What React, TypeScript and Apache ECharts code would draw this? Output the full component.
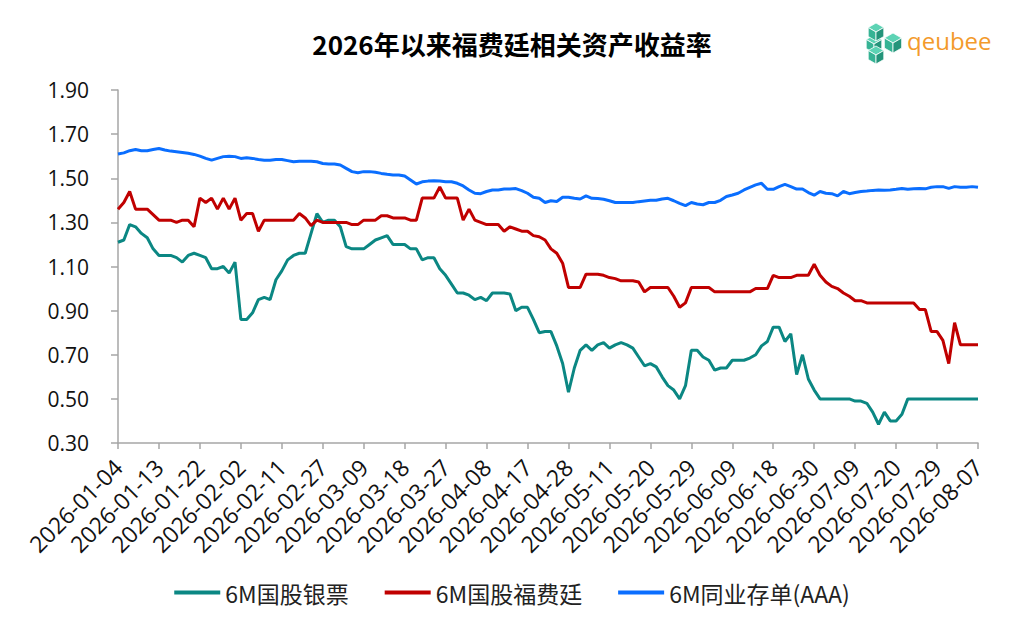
import React, { useEffect, useRef } from "react";
import * as echarts from "echarts";

const janDays = [4, 5, 6, 7, 8, 9, 12, 13, 14, 15, 16, 19, 20, 21, 22, 23, 26, 27, 28, 29, 30];
const febDays = [2, 3, 4, 5, 6, 9, 10, 11, 12, 13, 14, 24, 25, 26, 27, 28];
const marDays = [2, 3, 4, 5, 6, 9, 10, 11, 12, 13, 16, 17, 18, 19, 20, 23, 24, 25, 26, 27, 30, 31];
const aprDays = [1, 2, 3, 7, 8, 9, 10, 13, 14, 15, 16, 17, 20, 21, 22, 23, 24, 27, 28, 29, 30];
const mayDays = [6, 7, 8, 9, 11, 12, 13, 14, 15, 18, 19, 20, 21, 22, 25, 26, 27, 28, 29];
const junDays = [1, 2, 3, 4, 5, 8, 9, 10, 11, 12, 15, 16, 17, 18, 22, 23, 24, 25, 26, 29, 30];
const julDays = [1, 2, 3, 6, 7, 8, 9, 10, 13, 14, 15, 16, 17, 20, 21, 22, 23, 24, 27, 28, 29, 30, 31];
const augDays = [3, 4, 5, 6, 7];

const monthDays: [string, number[]][] = [
  ["01", janDays], ["02", febDays], ["03", marDays], ["04", aprDays],
  ["05", mayDays], ["06", junDays], ["07", julDays], ["08", augDays],
];
const pad = (d: number) => (d < 10 ? "0" + d : "" + d);
const categories: string[] = [];
monthDays.forEach(([m, days]) => days.forEach((d) => categories.push(`2026-${m}-${pad(d)}`)));

const seriesNames = ["6M国股银票", "6M国股福费廷", "6M同业存单(AAA)"];

const billData = [
  1.21, 1.22, 1.29, 1.28, 1.25, 1.23, 1.18, 1.15, 1.15, 1.15,
  1.14, 1.12, 1.15, 1.16, 1.15, 1.14, 1.09, 1.09, 1.10, 1.07,
  1.12, 0.86, 0.86, 0.89, 0.95, 0.96, 0.95, 1.04, 1.08, 1.13,
  1.15, 1.16, 1.16, 1.25, 1.34, 1.30, 1.31, 1.31, 1.28, 1.19,
  1.18, 1.18, 1.18, 1.20, 1.22, 1.23, 1.24, 1.20, 1.20, 1.20,
  1.18, 1.18, 1.13, 1.14, 1.14, 1.09, 1.06, 1.02, 0.98, 0.98,
  0.97, 0.95, 0.96, 0.945, 0.98, 0.98, 0.98, 0.975, 0.90, 0.915,
  0.915, 0.86, 0.80, 0.805, 0.805, 0.74, 0.66, 0.53, 0.64, 0.72,
  0.745, 0.72, 0.745, 0.755, 0.73, 0.745, 0.755, 0.745, 0.73, 0.69,
  0.65, 0.66, 0.645, 0.60, 0.56, 0.54, 0.50, 0.56, 0.72, 0.72,
  0.69, 0.675, 0.63, 0.64, 0.64, 0.675, 0.675, 0.675, 0.685, 0.70,
  0.74, 0.76, 0.825, 0.825, 0.76, 0.795, 0.61, 0.70, 0.59, 0.54,
  0.50, 0.50, 0.50, 0.50, 0.50, 0.50, 0.49, 0.49, 0.48, 0.44,
  0.385, 0.44, 0.40, 0.40, 0.43, 0.50, 0.50, 0.50, 0.50, 0.50,
  0.50, 0.50, 0.50, 0.50, 0.50, 0.50, 0.50, 0.50,
];

const forfaitingData = [
  1.36, 1.39, 1.44, 1.36, 1.36, 1.36, 1.335, 1.31, 1.31, 1.31,
  1.30, 1.31, 1.31, 1.28, 1.41, 1.39, 1.41, 1.36, 1.41, 1.36,
  1.41, 1.31, 1.34, 1.34, 1.26, 1.31, 1.31, 1.31, 1.31, 1.31,
  1.31, 1.34, 1.32, 1.285, 1.31, 1.30, 1.30, 1.30, 1.30, 1.30,
  1.29, 1.29, 1.31, 1.31, 1.31, 1.33, 1.33, 1.32, 1.32, 1.32,
  1.31, 1.31, 1.41, 1.41, 1.41, 1.46, 1.41, 1.41, 1.41, 1.31,
  1.36, 1.31, 1.30, 1.29, 1.29, 1.29, 1.26, 1.28, 1.27, 1.26,
  1.26, 1.24, 1.235, 1.22, 1.18, 1.16, 1.115, 1.005, 1.005, 1.005,
  1.065, 1.065, 1.065, 1.06, 1.05, 1.045, 1.035, 1.035, 1.035, 1.03,
  0.985, 1.005, 1.005, 1.005, 1.005, 0.965, 0.915, 0.935, 1.005, 1.005,
  1.005, 1.005, 0.985, 0.985, 0.985, 0.985, 0.985, 0.985, 0.985, 1.00,
  1.00, 1.00, 1.06, 1.05, 1.05, 1.05, 1.06, 1.06, 1.06, 1.11,
  1.06, 1.03, 1.01, 1.00, 0.98, 0.965, 0.945, 0.945, 0.935, 0.935,
  0.935, 0.935, 0.935, 0.935, 0.935, 0.935, 0.935, 0.905, 0.905, 0.805,
  0.805, 0.765, 0.66, 0.845, 0.745, 0.745, 0.745, 0.745,
];

const ncdData = [
  1.61, 1.615, 1.625, 1.63, 1.625, 1.625, 1.63, 1.635, 1.628, 1.623,
  1.62, 1.617, 1.613, 1.608, 1.60, 1.59, 1.582, 1.59, 1.598, 1.60,
  1.598, 1.59, 1.593, 1.59, 1.585, 1.582, 1.582, 1.585, 1.585, 1.58,
  1.575, 1.577, 1.577, 1.577, 1.575, 1.567, 1.565, 1.565, 1.56, 1.545,
  1.53, 1.525, 1.53, 1.53, 1.527, 1.522, 1.518, 1.515, 1.515, 1.51,
  1.492, 1.474, 1.484, 1.487, 1.489, 1.488, 1.484, 1.484, 1.477, 1.465,
  1.447, 1.432, 1.43, 1.44, 1.447, 1.447, 1.451, 1.451, 1.453, 1.444,
  1.432, 1.414, 1.409, 1.39, 1.398, 1.395, 1.414, 1.414, 1.409, 1.406,
  1.42, 1.409, 1.408, 1.405, 1.398, 1.39, 1.39, 1.39, 1.39, 1.394,
  1.397, 1.40, 1.40, 1.406, 1.409, 1.398, 1.386, 1.376, 1.39, 1.383,
  1.38, 1.39, 1.39, 1.40, 1.417, 1.424, 1.432, 1.447, 1.459, 1.47,
  1.477, 1.45, 1.45, 1.462, 1.472, 1.462, 1.451, 1.451, 1.435, 1.423,
  1.44, 1.432, 1.43, 1.42, 1.44, 1.43, 1.435, 1.44, 1.442, 1.445,
  1.447, 1.446, 1.447, 1.45, 1.454, 1.45, 1.452, 1.454, 1.452, 1.459,
  1.462, 1.462, 1.454, 1.462, 1.459, 1.459, 1.462, 1.459,
];

const colors = ["#0B8783", "#C00000", "#0A6EFF"];
const titleText = "2026年以来福费廷相关资产收益率";

function cube(cx: number, cy: number, r: number): any[] {
  const w = r * 0.866;
  const top = [cx, cy - r];
  const ur = [cx + w, cy - r / 2];
  const lr = [cx + w, cy + r / 2];
  const bot = [cx, cy + r];
  const ll = [cx - w, cy + r / 2];
  const ul = [cx - w, cy - r / 2];
  const c = [cx, cy];
  const stroke = { stroke: "#ffffff", lineWidth: 0.8 };
  return [
    { type: "polygon", shape: { points: [top, ur, c, ul] }, style: { fill: "#5DD3B4", ...stroke } },
    { type: "polygon", shape: { points: [ul, c, bot, ll] }, style: { fill: "#36B394", ...stroke } },
    { type: "polygon", shape: { points: [c, ur, lr, bot] }, style: { fill: "#24947A", ...stroke } },
  ];
}

export default function App() {
  const ref = useRef<HTMLDivElement>(null);
  useEffect(() => {
    if (!ref.current) return;
    const chart = echarts.init(ref.current, undefined, { renderer: "svg" });
    const labelFont = "'Open Sans', 'Noto Sans CJK SC', sans-serif";
    chart.setOption({
      animation: false,
      backgroundColor: "#ffffff",
      title: {
        text: titleText,
        left: "center",
        top: 25,
        textStyle: { fontSize: 26, fontWeight: "bold", color: "#000", fontFamily: "'Noto Sans CJK SC', sans-serif" },
      },
      legend: {
        bottom: 20,
        left: "center",
        itemWidth: 46,
        itemHeight: 4,
        itemGap: 36,
        icon: "rect",
        textStyle: { fontSize: 23, color: "#222", fontFamily: "'Noto Sans CJK SC', sans-serif" },
        data: seriesNames,
      },
      grid: { left: 118, right: 46, top: 90, bottom: 186 },
      xAxis: {
        type: "category",
        data: categories,
        boundaryGap: false,
        axisLine: { lineStyle: { color: "#A6A6A6", width: 1.5 } },
        axisTick: { interval: 6, length: 6, lineStyle: { color: "#A6A6A6", width: 1.5 } },
        axisLabel: {
          interval: 6,
          rotate: 45,
          margin: 20,
          fontSize: 23,
          color: "#111",
          fontFamily: labelFont,
        },
      },
      yAxis: {
        type: "value",
        min: 0.3,
        max: 1.9,
        interval: 0.2,
        axisLine: { show: true, lineStyle: { color: "#A6A6A6", width: 1.5 } },
        axisTick: { show: true, length: 7, lineStyle: { color: "#A6A6A6", width: 1.5 } },
        splitLine: { show: false },
        axisLabel: {
          margin: 29,
          fontSize: 21,
          color: "#111",
          fontFamily: labelFont,
          formatter: (v: number) => v.toFixed(2),
        },
      },
      series: [billData, forfaitingData, ncdData].map((d, i) => ({
        name: seriesNames[i],
        type: "line",
        data: d,
        showSymbol: false,
        symbol: "none",
        lineStyle: { width: 3, color: colors[i] },
        itemStyle: { color: colors[i] },
      })),
      graphic: [
        ...cube(874, 44, 9),
        ...cube(876, 32, 9),
        ...cube(876, 55, 9),
        ...cube(893, 43, 10),
        {
          type: "text",
          left: 907,
          top: 28,
          style: { text: "qeubee", fontSize: 24, fill: "#F39A2B", fontFamily: "'Open Sans', sans-serif" },
        },
      ],
    });
    return () => chart.dispose();
  }, []);
  return <div ref={ref} style={{ position: "fixed", left: 0, top: 0, width: 1024, height: 629 }} />;
}
